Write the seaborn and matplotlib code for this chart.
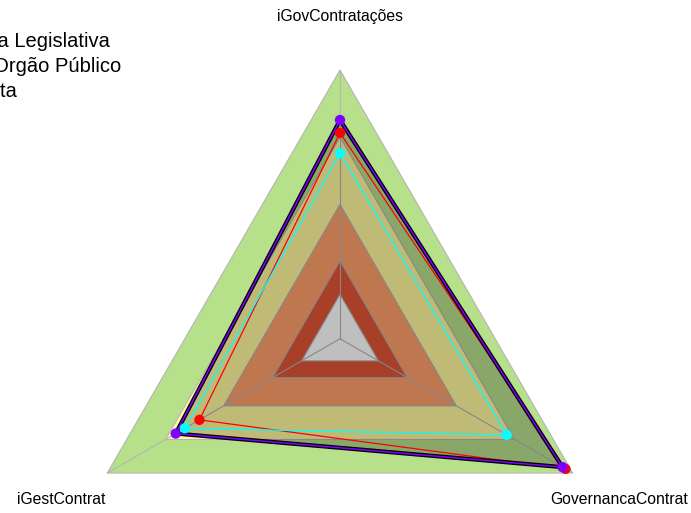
import numpy as np
import pandas as pd
import seaborn as sns
import matplotlib
matplotlib.use("Agg")
import matplotlib.pyplot as plt
from matplotlib.lines import Line2D

# eixos do radar (sentido anti-horario a partir do topo)
eixos = ["iGovContratações", "iGestContrat", "GovernancaContrat"]
angulos = [90, 210, 330]

# valores (fração do raio)
legislativa = [0.766, 0.604, 0.969]
orgao = [0.814, 0.706, 0.956]
meta = [0.690, 0.667, 0.716]

nomes = ["Câmara Legislativa", "Outro Orgão Público", "Proposta"]
cores = ["#ff0000", "#7f00ff", "#00ffff"]

# faixas de fundo (de fora para dentro)
faixas = [1.0, 0.75, 0.5, 0.29, 0.165]
cores_faixas = ["#b7e08b", "#fffa9e", "#ffa06b", "#e05538", "#ffffff"]


def xy(valores):
    t = np.deg2rad(angulos)
    v = np.array(valores, dtype=float)
    x = v * np.cos(t)
    y = v * np.sin(t)
    return np.append(x, x[0]), np.append(y, y[0])


sns.set_theme(style="white")
plt.rcParams['font.family'] = ['Liberation Sans', 'DejaVu Sans']
plt.rcParams['text.color'] = 'black'

fig = plt.figure(figsize=(6.91, 5.13), dpi=100)
ax = fig.add_axes([0, 0, 1, 1])
ax.set_xlim(-1.2654, 1.3063)
ax.set_ylim(-0.6487, 1.2605)
ax.axis('off')

# fundo em faixas
for r, c in zip(faixas, cores_faixas):
    ax.fill(*xy([r] * 3), color=c, ec="#b5b5b5", lw=0.8, zorder=1)

# raios
for a in angulos:
    t = np.deg2rad(a)
    ax.plot([0, np.cos(t)], [0, np.sin(t)], color="#b5b5b5", lw=0.8, zorder=2)

# area do orgao
ax.fill(*xy(orgao), color="black", alpha=0.25, lw=0, zorder=3)

ax.plot(*xy(legislativa), color=cores[0], lw=0.9, zorder=4)
ax.plot(*xy(orgao), color="black", lw=3.0, zorder=5)
ax.plot(*xy(orgao), color=cores[1], lw=1.1, zorder=6)
ax.plot(*xy(meta), color=cores[2], lw=0.9, zorder=7)

pontos = []
for nome, vals in zip(nomes, [legislativa, orgao, meta]):
    x, y = xy(vals)
    pontos.append(pd.DataFrame({"x": x[:-1], "y": y[:-1], "serie": nome}))
pontos = pd.concat(pontos, ignore_index=True)

sns.scatterplot(data=pontos, x="x", y="y", hue="serie", palette=dict(zip(nomes, cores)),
                s=55, edgecolor="none", legend=False, ax=ax, zorder=8)

# rotulos dos eixos
for nome, a in zip(eixos, angulos):
    t = np.deg2rad(a)
    ax.text(1.2 * np.cos(t), 1.2 * np.sin(t), nome, ha="center", va="center",
            fontsize=11.3, color="black")

handles = [Line2D([], [], color=c, marker="o", lw=1) for c in cores]
fig.legend(handles, nomes, loc="upper left", bbox_to_anchor=(-0.1733, 0.937),
           frameon=False, fontsize=14.5, borderpad=0, borderaxespad=0,
           handlelength=2, handletextpad=0.8, labelspacing=0.3,
           labelcolor="black")

fig.savefig("out.png", dpi=100)
